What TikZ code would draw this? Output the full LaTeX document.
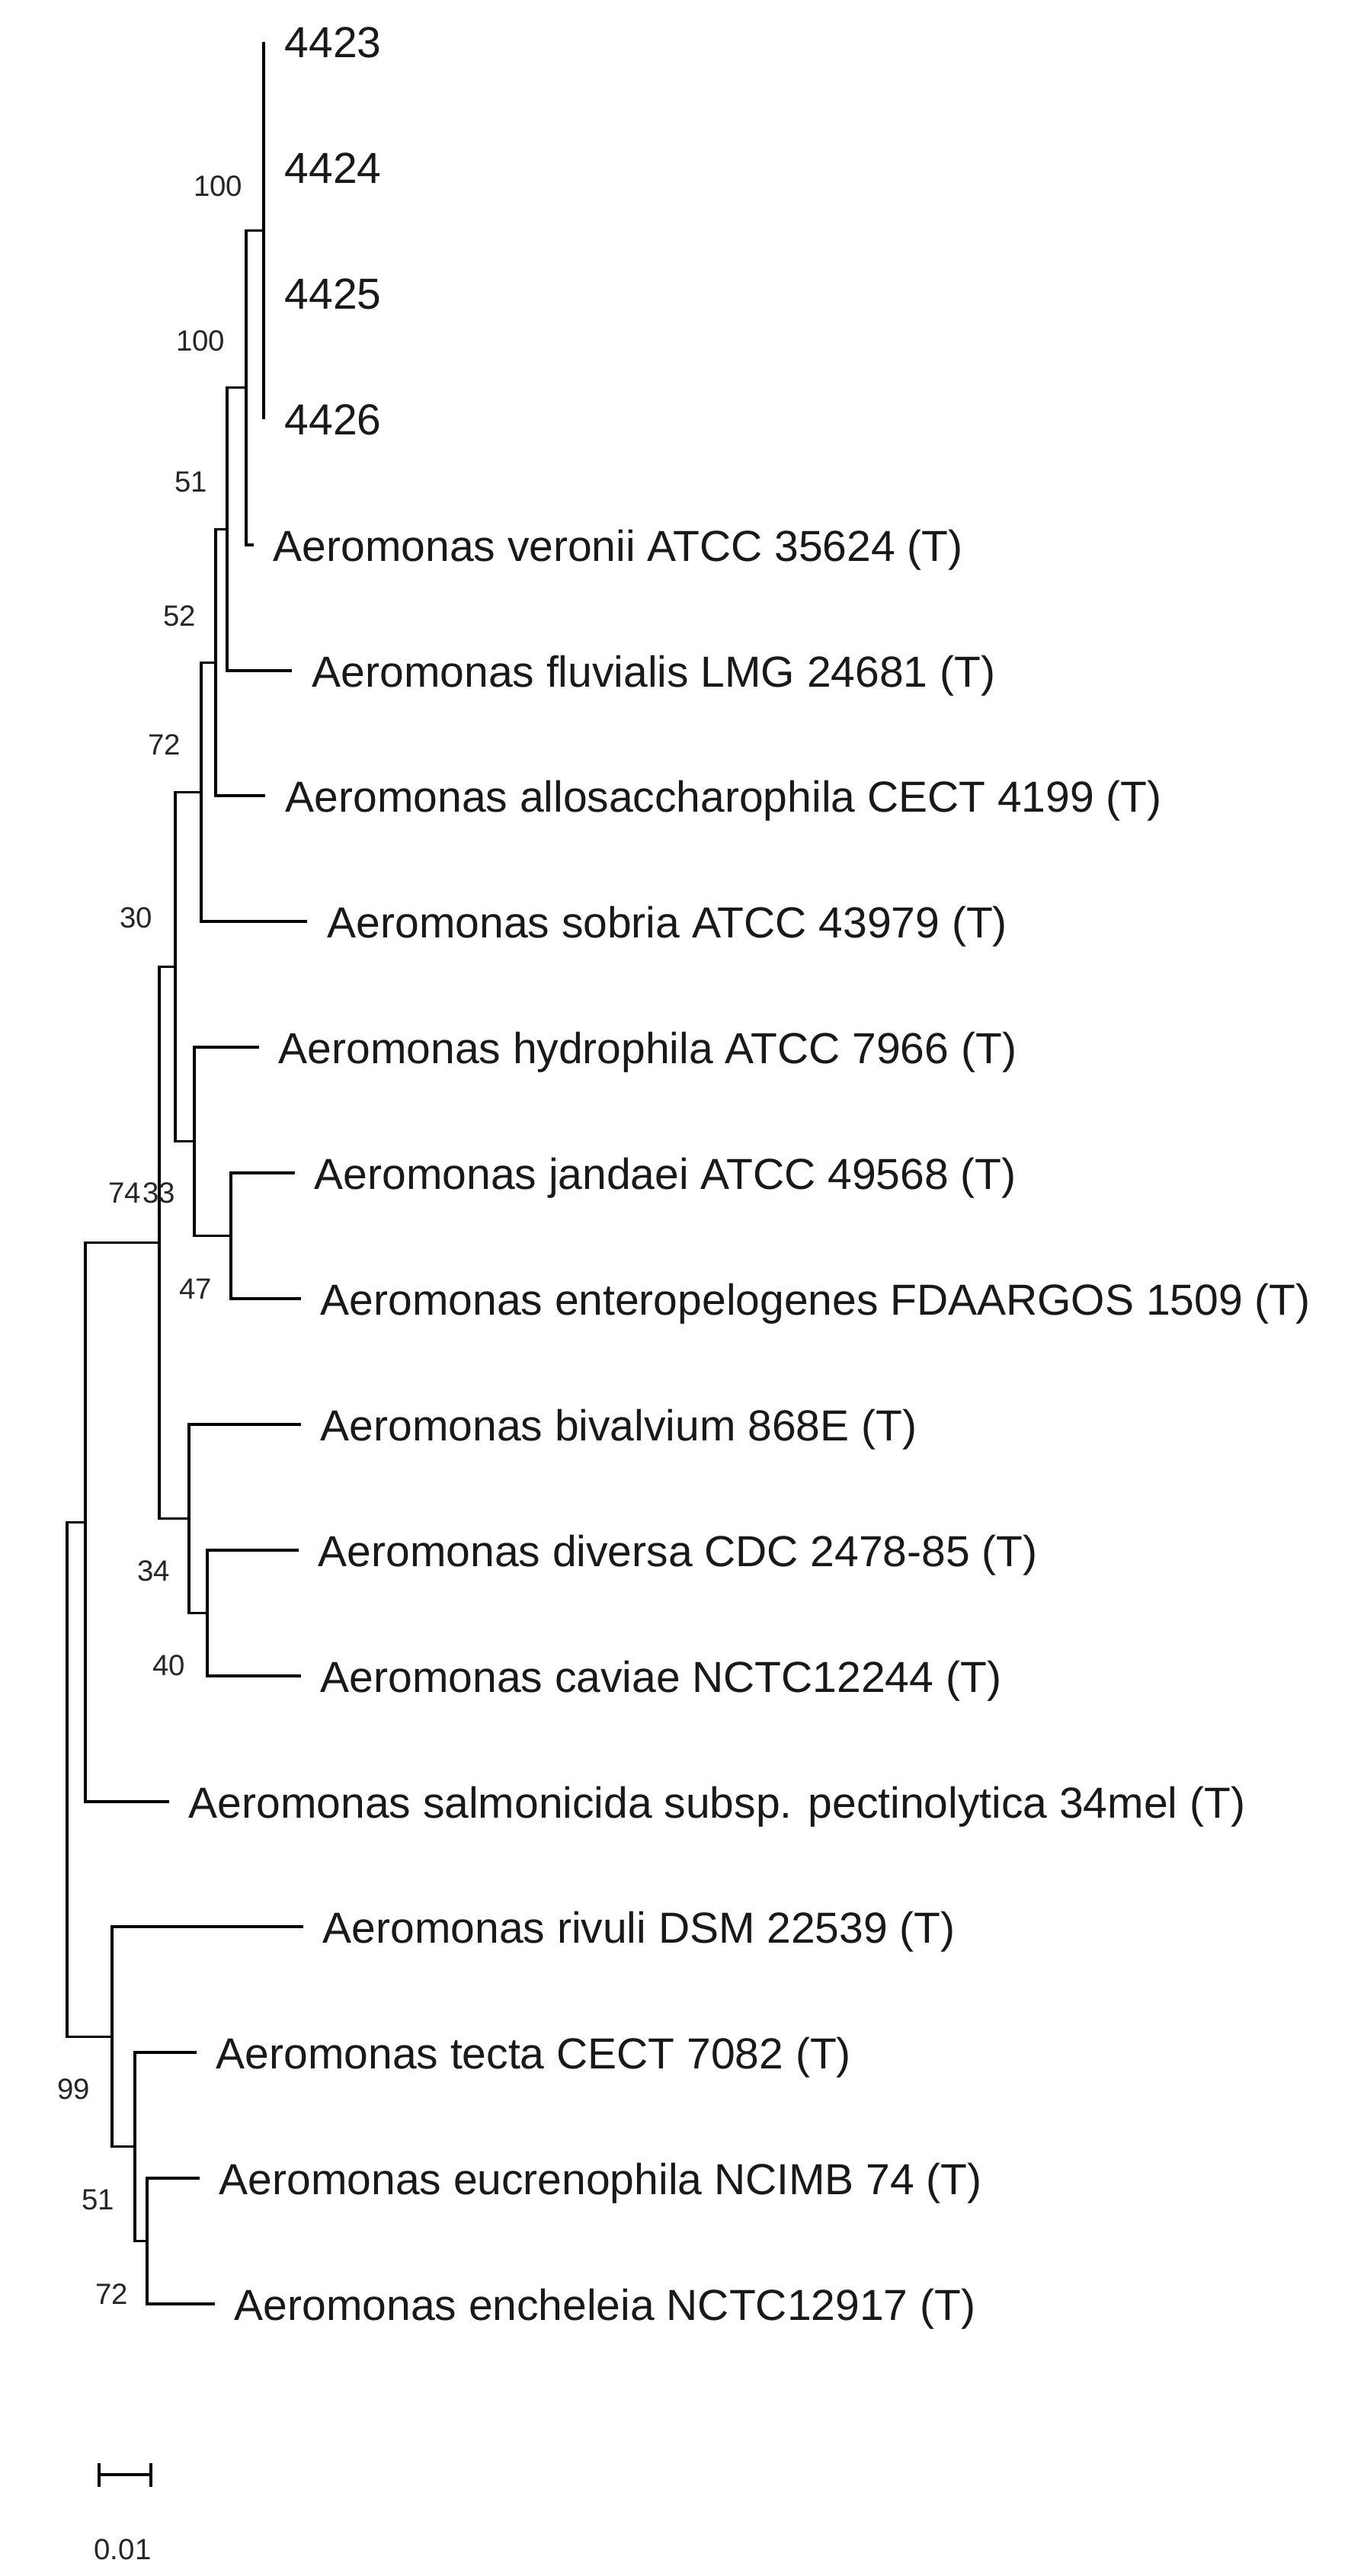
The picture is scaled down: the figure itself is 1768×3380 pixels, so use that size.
\documentclass[tikz,border=0pt]{standalone}
\usepackage{fontspec}
\setmainfont{Liberation Sans}
\newcommand\leaffont{\fontsize{14.25pt}{17pt}\selectfont}
\newcommand\bootfont{\fontsize{9.6pt}{11pt}\selectfont}
\newcommand\scalefont{\fontsize{9.6pt}{11pt}\selectfont}
\begin{document}
\begin{tikzpicture}[x=0.25pt,y=-0.25pt,
  branch/.style={line width=0.8pt,black},
  leaf/.style={font=\leaffont,anchor=base west,inner sep=0pt,text=black!90},
  boot/.style={font=\bootfont,anchor=east,inner sep=0pt,text=black!85},
  scaletext/.style={font=\scalefont,anchor=center,inner sep=0pt,text=black!85}]
\useasboundingbox[fill=white] (0,0) rectangle (1768,3380);
% leaf tips
\coordinate (t0) at (346,55);
\coordinate (t1) at (346,220);
\coordinate (t2) at (346,385);
\coordinate (t3) at (346,550);
\coordinate (t4) at (333,715);
\coordinate (t5) at (383,880);
\coordinate (t6) at (348,1044);
\coordinate (t7) at (403,1209);
\coordinate (t8) at (340,1374);
\coordinate (t9) at (387,1539);
\coordinate (t10) at (395,1704);
\coordinate (t11) at (395,1869);
\coordinate (t12) at (392,2034);
\coordinate (t13) at (395,2199);
\coordinate (t14) at (222,2364);
\coordinate (t15) at (398,2528);
\coordinate (t16) at (258,2693);
\coordinate (t17) at (262,2858);
\coordinate (t18) at (282,3023);
% internal nodes
\coordinate (c1) at (346,302.5);
\coordinate (c2) at (323,508.75);
\coordinate (c3) at (298,694.4);
\coordinate (c4) at (283,869.2);
\coordinate (c5) at (264,1039.1);
\coordinate (c8) at (303,1621.5);
\coordinate (ch) at (255,1497.75);
\coordinate (c6) at (230,1268.4);
\coordinate (cdc) at (272,2116.5);
\coordinate (c9) at (248,1992.75);
\coordinate (c7) at (209,1630.6);
\coordinate (ca) at (112,1997.3);
\coordinate (cee) at (193,2940.5);
\coordinate (cte) at (177,2816.75);
\coordinate (ct) at (147,2672.6);
\coordinate (root) at (88,2335);
% branches
\draw[branch] (root) |- (ca);
\draw[branch] (root) |- (ct);
\draw[branch] (ca) |- (c7);
\draw[branch] (ca) |- (t14);
\draw[branch] (c7) |- (c6);
\draw[branch] (c7) |- (c9);
\draw[branch] (c6) |- (c5);
\draw[branch] (c6) |- (ch);
\draw[branch] (c5) |- (c4);
\draw[branch] (c5) |- (t7);
\draw[branch] (c4) |- (c3);
\draw[branch] (c4) |- (t6);
\draw[branch] (c3) |- (c2);
\draw[branch] (c3) |- (t5);
\draw[branch] (c2) |- (c1);
\draw[branch] (c2) |- (t4);
\draw[branch] (c1) -- (t0);
\draw[branch] (c1) -- (t3);
\draw[branch] (ch) |- (t8);
\draw[branch] (ch) |- (c8);
\draw[branch] (c8) |- (t9);
\draw[branch] (c8) |- (t10);
\draw[branch] (c9) |- (t11);
\draw[branch] (c9) |- (cdc);
\draw[branch] (cdc) |- (t12);
\draw[branch] (cdc) |- (t13);
\draw[branch] (ct) |- (t15);
\draw[branch] (ct) |- (cte);
\draw[branch] (cte) |- (t16);
\draw[branch] (cte) |- (cee);
\draw[branch] (cee) |- (t17);
\draw[branch] (cee) |- (t18);
% leaf labels
\node[leaf] (l0) at (373,76) {4423};
\node[leaf] (l1) at (373,241) {4424};
\node[leaf] (l2) at (373,406) {4425};
\node[leaf] (l3) at (373,571) {4426};
\node[leaf] (l4) at (358,736) {Aeromonas veronii ATCC 35624 (T)};
\node[leaf] (l5) at (409,901) {Aeromonas fluvialis LMG 24681 (T)};
\node[leaf] (l6) at (374,1065) {Aeromonas allosaccharophila CECT 4199 (T)};
\node[leaf] (l7) at (429,1230) {Aeromonas sobria ATCC 43979 (T)};
\node[leaf] (l8) at (365,1395) {Aeromonas hydrophila ATCC 7966 (T)};
\node[leaf] (l9) at (412,1560) {Aeromonas jandaei ATCC 49568 (T)};
\node[leaf] (l10) at (420,1725) {Aeromonas enteropelogenes FDAARGOS 1509 (T)};
\node[leaf] (l11) at (420,1890) {Aeromonas bivalvium 868E (T)};
\node[leaf] (l12) at (417,2055) {Aeromonas diversa CDC 2478-85 (T)};
\node[leaf] (l13) at (420,2220) {Aeromonas caviae NCTC12244 (T)};
\node[leaf] (l14) at (247,2385) {Aeromonas salmonicida subsp. pectinolytica 34mel (T)};
\node[leaf] (l15) at (423,2549) {Aeromonas rivuli DSM 22539 (T)};
\node[leaf] (l16) at (283,2714) {Aeromonas tecta CECT 7082 (T)};
\node[leaf] (l17) at (287,2879) {Aeromonas eucrenophila NCIMB 74 (T)};
\node[leaf] (l18) at (307,3044) {Aeromonas encheleia NCTC12917 (T)};
% bootstrap values
\node[boot] (b1) at (319,244) {100};
\node[boot] (b2) at (296,447) {100};
\node[boot] (b3) at (273,632) {51};
\node[boot] (b4) at (258,808) {52};
\node[boot] (b5) at (238,977) {72};
\node[boot] (b6) at (201,1204) {30};
\node[boot] (b7) at (186,1565) {74};
\node[boot] (bh) at (231,1565) {33};
\node[boot] (b8) at (279,1691) {47};
\node[boot] (b9) at (224,2061) {34};
\node[boot] (bdc) at (244,2185) {40};
\node[boot] (bt) at (119,2741) {99};
\node[boot] (bte) at (151,2886) {51};
\node[boot] (bee) at (169,3010) {72};
% scale bar
\coordinate (s1) at (130,3247);
\coordinate (s2) at (198,3247);
\draw[branch] (s1) -- (s2);
\draw[branch] ([yshift=-16*0.25pt]s1) -- ([yshift=15*0.25pt]s1);
\draw[branch] ([yshift=-16*0.25pt]s2) -- ([yshift=15*0.25pt]s2);
\node[scaletext] (sl) at (161,3345) {0.01};
\end{tikzpicture}
\end{document}
